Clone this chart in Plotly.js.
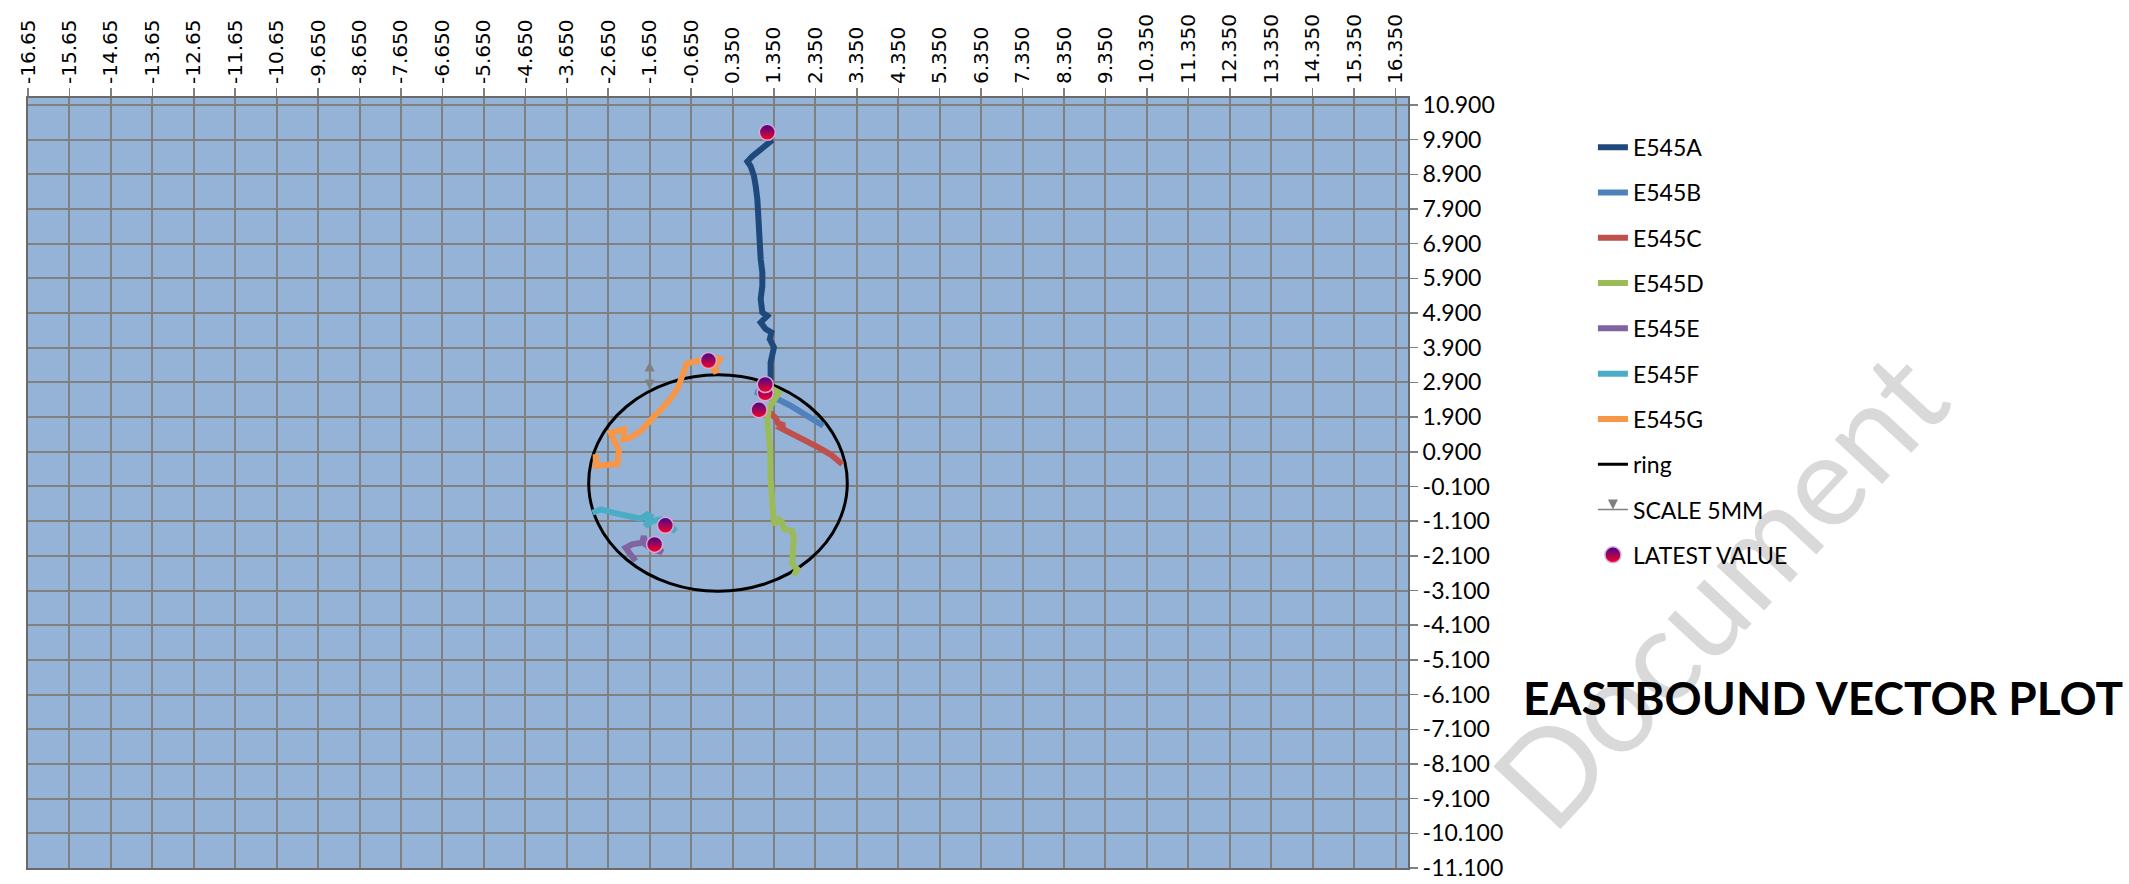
<!DOCTYPE html>
<html>
<head>
<meta charset="utf-8">
<script src="https://cdn.plot.ly/plotly-3.0.1.min.js"></script>
<style>
  html, body { margin: 0; padding: 0; background: #ffffff; width: 2129px; height: 884px; overflow: hidden; }
  #wm { position: absolute; left: 1718px; top: 588px; transform: translate(-50%, -50%) rotate(-47deg);
        font-family: Lato, "Open Sans", sans-serif; font-size: 128px; line-height: 1; color: #d9d9d9; white-space: nowrap; z-index: 0; }
  #chart { position: absolute; left: 0; top: 0; width: 2129px; height: 884px; z-index: 1; }
</style>
</head>
<body>
<div id="wm">Document</div>
<div id="chart"></div>
<script>
// ---- tick labels ----
const xTickVals = [-16.65, -15.65, -14.65, -13.65, -12.65, -11.65, -10.65, -9.65, -8.65, -7.65, -6.65, -5.65, -4.65, -3.65, -2.65, -1.65, -0.65,
                   0.35, 1.35, 2.35, 3.35, 4.35, 5.35, 6.35, 7.35, 8.35, 9.35, 10.35, 11.35, 12.35, 13.35, 14.35, 15.35, 16.35];
const xTickText = ['-16.65', '-15.65', '-14.65', '-13.65', '-12.65', '-11.65', '-10.65', '-9.650', '-8.650', '-7.650', '-6.650', '-5.650', '-4.650', '-3.650', '-2.650', '-1.650', '-0.650',
                   '0.350', '1.350', '2.350', '3.350', '4.350', '5.350', '6.350', '7.350', '8.350', '9.350', '10.350', '11.350', '12.350', '13.350', '14.350', '15.350', '16.350'];
const yTickVals = [10.9, 9.9, 8.9, 7.9, 6.9, 5.9, 4.9, 3.9, 2.9, 1.9, 0.9, -0.1, -1.1, -2.1, -3.1, -4.1, -5.1, -6.1, -7.1, -8.1, -9.1, -10.1, -11.1];
const yTickText = ['10.900', '9.900', '8.900', '7.900', '6.900', '5.900', '4.900', '3.900', '2.900', '1.900', '0.900', '-0.100', '-1.100', '-2.100',
                   '-3.100', '-4.100', '-5.100', '-6.100', '-7.100', '-8.100', '-9.100', '-10.100', '-11.100'];
const xRange = [-16.65, 16.65];
const yRange = [-11.1, 11.1];

// ---- series (x = east, y = north) ----
const seriesNames = ['E545A', 'E545B', 'E545C', 'E545D', 'E545E', 'E545F', 'E545G'];

const e545aX = [1.27, 1.29, 1.27, 1.35, 1.25, 1.29, 1.15, 1.03, 1.19, 1.07, 1.03, 1.07, 1.07, 1.03, 1.00, 1.00, 0.95, 0.91, 0.87, 0.79, 0.71, 0.83, 0.99, 1.15, 1.27, 1.23, 1.19];
const e545aY = [2.81, 3.20, 3.48, 3.91, 4.15, 4.34, 4.44, 4.63, 4.82, 4.92, 5.30, 5.68, 6.07, 6.45, 7.02, 7.60, 8.17, 8.56, 8.84, 9.13, 9.27, 9.42, 9.56, 9.70, 9.85, 10.04, 10.11];

const e545bX = [2.54, 2.40, 2.24, 2.00, 1.72, 1.47, 1.11, 0.91, 1.00, 1.14];
const e545bY = [1.65, 1.76, 1.87, 2.06, 2.25, 2.40, 2.49, 2.63, 2.62, 2.60];

const e545cX = [3.00, 2.72, 2.40, 2.08, 1.84, 1.64, 1.51, 1.60, 1.45, 1.39, 1.27, 0.99];
const e545cY = [0.54, 0.82, 1.04, 1.23, 1.40, 1.49, 1.59, 1.66, 1.72, 1.87, 2.01, 2.11];

const e545dX = [1.83, 1.91, 1.79, 1.81, 1.83, 1.79, 1.59, 1.55, 1.47, 1.35, 1.33, 1.31, 1.29, 1.27, 1.26, 1.22, 1.19, 1.23, 1.35, 1.47, 1.14];
const e545dY = [-2.67, -2.48, -2.34, -1.91, -1.53, -1.39, -1.32, -1.15, -1.05, -1.20, -0.86, -0.39, 0.00, 0.11, 0.97, 1.44, 1.82, 2.16, 2.40, 2.60, 2.84];

const e545eX = [-1.99, -2.07, -2.23, -2.07, -1.83, -1.79, -1.75, -1.59, -1.35, -1.53];
const e545eY = [-2.25, -2.11, -1.87, -1.77, -1.72, -1.53, -1.77, -1.92, -1.99, -1.77];

const e545fX = [-3.03, -2.83, -2.51, -2.19, -1.87, -1.71, -1.63, -1.75, -1.59, -1.39, -1.15, -1.03, -1.27];
const e545fY = [-0.86, -0.76, -0.86, -0.94, -1.03, -0.91, -0.96, -1.24, -1.10, -1.05, -1.20, -1.39, -1.22];

const e545gX = [-2.95, -2.95, -2.43, -2.39, -2.59, -2.27, -2.28, -2.11, -1.87, -1.63, -1.47, -1.35, -1.19, -1.07, -0.95, -0.87, -0.79, -0.75, -0.55, -0.39, -0.03, 0.05, -0.07, -0.04, -0.23];
const e545gY = [0.83, 0.50, 0.55, 0.93, 1.45, 1.55, 1.26, 1.31, 1.50, 1.79, 2.02, 2.17, 2.36, 2.55, 2.79, 3.07, 3.26, 3.45, 3.50, 3.55, 3.60, 3.57, 3.36, 3.17, 3.53];

// latest value of each gauge (A, B, C, D, E, F, G)
const latestX = [1.19, 1.14, 0.99, 1.14, -1.53, -1.27, -0.23];
const latestY = [10.11, 2.60, 2.11, 2.84, -1.77, -1.22, 3.53];

// ring (reference circle)
const ringCenter = [0, 0];
const ringRadius = 3.12;

// scale bar (5 mm)
const scaleX = [-1.65, -1.65];
const scaleY = [2.69, 3.50];

const seriesColors = ['#1F497D', '#4F81BD', '#C0504D', '#9BBB59', '#8064A2', '#4BACC6', '#F79646'];
const seriesWidths = [6, 6, 6, 6, 6, 6, 6];

const xs = [e545aX, e545bX, e545cX, e545dX, e545eX, e545fX, e545gX];
const ys = [e545aY, e545bY, e545cY, e545dY, e545eY, e545fY, e545gY];

const traces = seriesNames.map((n, i) => ({
  type: 'scatter', mode: 'lines', name: n, x: xs[i], y: ys[i],
  line: { color: seriesColors[i], width: seriesWidths[i], shape: 'linear' },
  legendgroup: n, hoverinfo: 'skip'
}));

traces.push({
  type: 'scatter', mode: 'lines', name: 'ring', x: [null], y: [null],
  line: { color: '#000000', width: 3 }, legendgroup: 'ring', hoverinfo: 'skip'
});

traces.push({
  type: 'scatter', mode: 'lines+markers', name: 'SCALE 5MM', x: scaleX, y: scaleY,
  line: { color: '#808080', width: 1.5 },
  marker: { symbol: ['arrow-down', 'arrow-up'], size: 10, color: '#808080' },
  legendgroup: 'scale', hoverinfo: 'skip'
});

traces.push({
  type: 'scatter', mode: 'markers', name: 'LATEST VALUE', x: latestX, y: latestY,
  marker: { size: 16, color: '#3B0A8F', gradient: { type: 'vertical', color: '#FF0022' },
            line: { color: '#D9A9D9', width: 1.5 } },
  legendgroup: 'latest', hoverinfo: 'skip'
});

const layout = {
  width: 2129, height: 884,
  margin: { l: 28, r: 721, t: 98, b: 16, autoexpand: false },
  paper_bgcolor: 'rgba(0,0,0,0)',
  plot_bgcolor: '#95B3D7',
  font: { family: 'Lato, sans-serif', color: '#000000' },
  title: {
    text: 'EASTBOUND VECTOR PLOT',
    font: { family: 'Lato, sans-serif', size: 46, weight: 700, color: '#000000' },
    xref: 'container', yref: 'container', x: 0.7154, xanchor: 'left', y: 0.2095, yanchor: 'middle'
  },
  xaxis: {
    range: xRange, side: 'top', tickmode: 'array', tickvals: xTickVals, ticktext: xTickText,
    tickangle: -90, tickfont: { family: 'DejaVu Sans, sans-serif', size: 20, color: '#000000' },
    showgrid: true, gridcolor: '#808080', gridwidth: 2, zeroline: false,
    showline: true, linecolor: '#6a6a6a', linewidth: 2, mirror: true,
    ticks: 'outside', ticklen: 8, tickwidth: 1.5, tickcolor: '#808080', fixedrange: true
  },
  yaxis: {
    range: yRange, side: 'right', tickmode: 'array', tickvals: yTickVals, ticktext: yTickText,
    tickfont: { family: 'Lato, sans-serif', size: 23, color: '#000000' },
    showgrid: true, gridcolor: '#808080', gridwidth: 2, zeroline: false,
    showline: true, linecolor: '#6a6a6a', linewidth: 2, mirror: true,
    ticks: 'outside', ticklen: 8, tickwidth: 1.5, tickcolor: '#808080', fixedrange: true
  },
  showlegend: true,
  legend: {
    x: 1.134, xanchor: 'left', y: 0.964, yanchor: 'top',
    font: { family: 'Lato, sans-serif', size: 23, color: '#000000' },
    traceorder: 'grouped', tracegroupgap: 12.4, bgcolor: 'rgba(0,0,0,0)', borderwidth: 0
  },
  shapes: [{
    type: 'circle', xref: 'x', yref: 'y', layer: 'between',
    x0: ringCenter[0] - ringRadius, x1: ringCenter[0] + ringRadius,
    y0: ringCenter[1] - ringRadius, y1: ringCenter[1] + ringRadius,
    line: { color: '#000000', width: 3 }, fillcolor: 'rgba(0,0,0,0)'
  }]
};

Plotly.newPlot('chart', traces, layout, { displayModeBar: false, staticPlot: true });
</script>
</body>
</html>
